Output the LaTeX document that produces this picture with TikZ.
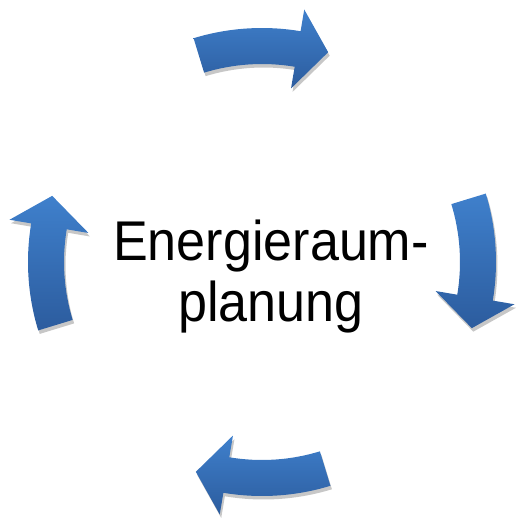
\documentclass[tikz,border=0pt]{standalone}
\usepackage{fontspec}
\setmainfont[FakeStretch=0.93]{Liberation Sans}
\usetikzlibrary{shadows}
\definecolor{arrTop}{HTML}{3F80CC}
\definecolor{arrBot}{HTML}{2C5C9E}
\tikzset{
  cyclearrow/.style = {top color=arrTop, bottom color=arrBot, draw=none,
                       drop shadow={shadow xshift=1.5pt, shadow yshift=-3.5pt,
                                    opacity=0.22, fill=black}},
  centrelbl/.style  = {font=\fontsize{56}{61}\selectfont, align=center,
                       inner sep=0pt, anchor=north},
}
\begin{document}
\begin{tikzpicture}[x=1pt, y=1pt]
  \useasboundingbox (-262,-258) rectangle (257,262);

  % four curved arrows, tail angle of each
  \foreach \t in {107,17,-73,-163} {
    \path[cyclearrow] (\t:234)
      arc[start angle=\t, end angle={\t-26.5}, radius=234]
      -- ({\t-26.5}:256) -- ({\t-34.5}:220) -- ({\t-26.5}:176)
      -- ({\t-26.5}:198)
      arc[start angle={\t-26.5}, end angle=\t, radius=198] -- cycle;
  }

  \node[centrelbl] (title) at (9,42) {Energieraum-\\planung};
\end{tikzpicture}
\end{document}
